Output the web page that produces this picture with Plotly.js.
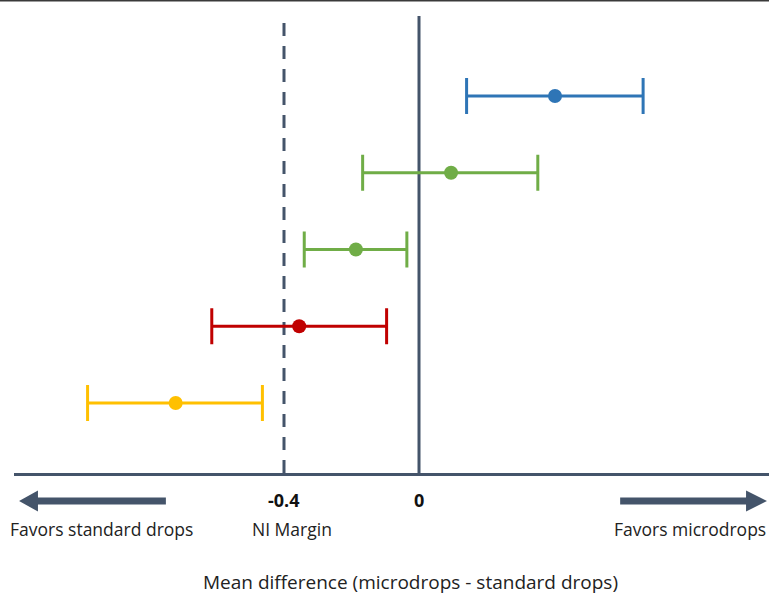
<!DOCTYPE html>
<html>
<head>
<meta charset="utf-8">
<script src="https://cdn.plot.ly/plotly-3.0.1.min.js"></script>
<style>html,body{margin:0;padding:0;background:#fff;}#chart{width:769px;height:597px;}</style>
</head>
<body>
<div id="chart"></div>
<script>
// Data (mean difference, lower CI, upper CI), top to bottom
const rows = [5, 4, 3, 2, 1];
const means = [0.403, 0.095, -0.187, -0.355, -0.721];
const lowers = [0.141, -0.167, -0.340, -0.614, -0.982];
const uppers = [0.664, 0.352, -0.036, -0.096, -0.464];
const colors = ['#2E75B6', '#70AD47', '#70AD47', '#C00000', '#FFC000'];
const niMargin = -0.4;
const tickVals = [-0.4, 0];
const tickLabels = ['-0.4', '0'];

const dark = '#44546A';
const traces = rows.map((r, i) => ({
  type: 'scatter', mode: 'markers',
  x: [means[i]], y: [r],
  marker: {color: colors[i], size: 14},
  error_x: {type: 'data', symmetric: false,
    array: [uppers[i] - means[i]], arrayminus: [means[i] - lowers[i]],
    color: colors[i], thickness: 3, width: 18},
  hoverinfo: 'x', showlegend: false, cliponaxis: false
}));

const yA = -0.0613; // arrow centre in paper coords
const sh = 0.0077, hh = 0.023;
function arrowPath(tip, base, end) {
  return `M ${tip} ${yA} L ${base} ${yA + hh} L ${base} ${yA + sh} L ${end} ${yA + sh} L ${end} ${yA - sh} L ${base} ${yA - sh} L ${base} ${yA - hh} Z`;
}

const fontFam = '"Open Sans", "Noto Sans", sans-serif';
const lab = {size: 17.5, color: '#222', family: fontFam};
const layout = {
  width: 769, height: 597,
  margin: {l: 14, r: 0, t: 16, b: 124},
  paper_bgcolor: '#fff', plot_bgcolor: '#fff',
  xaxis: {range: [-1.2, 1.037], showgrid: false, zeroline: false,
    showline: true, linecolor: dark, linewidth: 3,
    tickvals: tickVals, ticktext: tickLabels, showticklabels: false, ticks: ''},
  yaxis: {range: [0.088, 6.042], visible: false, showgrid: false, zeroline: false},
  shapes: [
    {type: 'line', xref: 'x', yref: 'paper', x0: 0, x1: 0, y0: 0, y1: 1, line: {color: dark, width: 3}, layer: 'below'},
    {type: 'line', xref: 'x', yref: 'paper', x0: niMargin, x1: niMargin, y0: 0, y1: 1, line: {color: dark, width: 3, dash: '13px,10px'}, layer: 'below'},
    {type: 'line', xref: 'paper', yref: 'paper', x0: -0.02, x1: 1.01, y0: 1.034, y1: 1.034, line: {color: '#3a3a3a', width: 2}},
    {type: 'path', xref: 'x', yref: 'paper', path: arrowPath(-1.185, -1.129, -0.750), fillcolor: dark, line: {width: 0}},
    {type: 'path', xref: 'x', yref: 'paper', path: arrowPath(1.031, 0.969, 0.596), fillcolor: dark, line: {width: 0}}
  ],
  annotations: [
    ...tickVals.map((v, i) => ({x: v, y: -0.059, xref: 'x', yref: 'paper', yanchor: 'middle', text: '<b>' + tickLabels[i] + '</b>', showarrow: false, font: {size: 18, color: '#111', family: fontFam}})),
    {x: -0.94, y: -0.1225, xref: 'x', yref: 'paper', yanchor: 'middle', text: 'Favors standard drops', showarrow: false, font: lab},
    {x: -0.376, y: -0.1225, xref: 'x', yref: 'paper', yanchor: 'middle', text: 'NI Margin', showarrow: false, font: lab},
    {x: 1.034, y: -0.1225, xref: 'x', yref: 'paper', xanchor: 'right', yanchor: 'middle', text: 'Favors microdrops', showarrow: false, font: lab},
    {x: -0.024, y: -0.2385, xref: 'x', yref: 'paper', yanchor: 'middle', text: 'Mean difference (microdrops - standard drops)', showarrow: false, font: {size: 19, color: '#222', family: fontFam}}
  ]
};

Plotly.newPlot('chart', traces, layout, {displayModeBar: false, staticPlot: true});
</script>
</body>
</html>
